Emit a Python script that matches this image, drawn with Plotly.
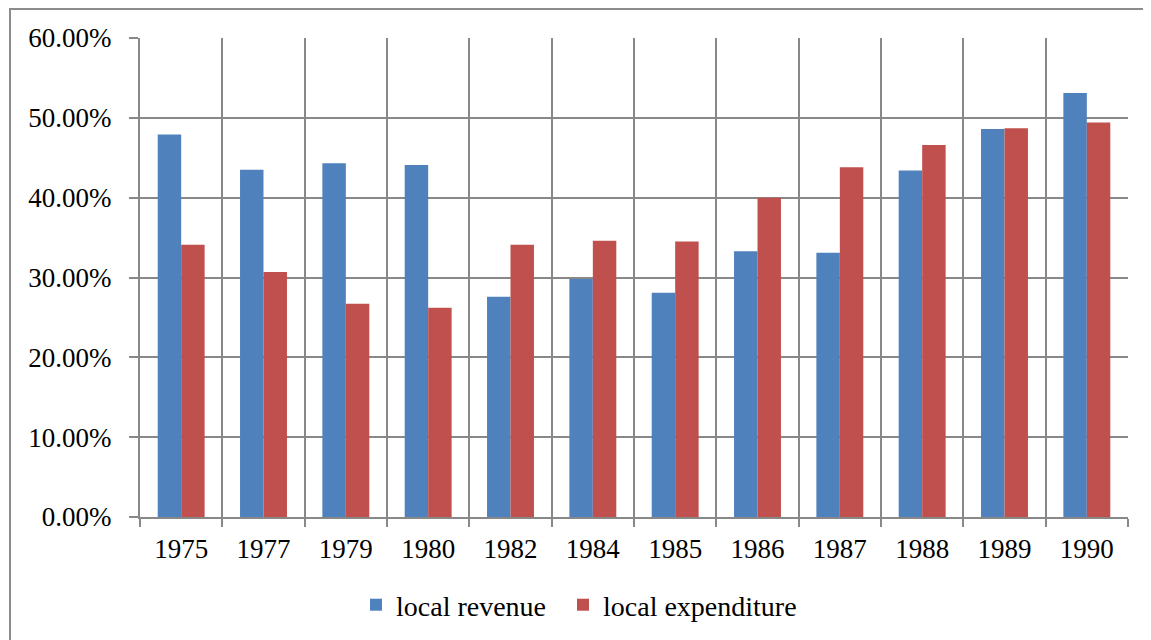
import plotly.graph_objects as go

years = ["1975", "1977", "1979", "1980", "1982", "1984", "1985", "1986", "1987", "1988", "1989", "1990"]
local_revenue = [0.479, 0.435, 0.443, 0.441, 0.276, 0.298, 0.281, 0.333, 0.331, 0.434, 0.486, 0.531]
local_expenditure = [0.341, 0.307, 0.267, 0.262, 0.341, 0.346, 0.345, 0.400, 0.438, 0.466, 0.487, 0.494]
y_ticks = [0, 0.1, 0.2, 0.3, 0.4, 0.5, 0.6]

# page body has an 8px default margin; work in page coords then shift
OFF = 8
W, H = 1151 - OFF, 640 - OFF
L, R, T, B = 140 - OFF, 1128 - OFF, 38 - OFF, 517 - OFF

FONT = "Liberation Serif"
GRID = "#888888"

fig = go.Figure()
fig.add_trace(go.Bar(x=years, y=local_revenue, name="local revenue",
                     marker=dict(color="#4F81BD", line=dict(width=0)),
                     legend="legend"))
fig.add_trace(go.Bar(x=years, y=local_expenditure, name="local expenditure",
                     marker=dict(color="#C0504D", line=dict(width=0)),
                     legend="legend2"))

pw, ph = R - L, B - T
def px(x):
    return (x - OFF - L) / pw
def py(y):
    return (B - (y - OFF)) / ph

leg_common = dict(orientation="h", xref="container", yref="container",
                  xanchor="left", y=1 - (605 - OFF) / H, yanchor="middle",
                  font=dict(family=FONT, size=28), itemwidth=30,
                  bgcolor="rgba(0,0,0,0)")

fig.update_layout(
    width=W, height=H,
    margin=dict(l=L, r=W - R, t=T, b=H - B),
    paper_bgcolor="white", plot_bgcolor="white",
    font=dict(family=FONT, size=27, color="#000000"),
    bargap=0.43, bargroupgap=0,
    barmode="group",
    showlegend=True,
    legend=dict(x=(356 - OFF) / W, **leg_common),
    legend2=dict(x=(563 - OFF) / W, **leg_common),
    xaxis=dict(type="category", tickson="boundaries", showgrid=True,
               gridcolor=GRID, gridwidth=2, showline=True, linecolor=GRID,
               linewidth=2, ticks="outside", ticklen=8, tickwidth=2,
               tickcolor=GRID, ticklabelstandoff=7,
               tickfont=dict(family=FONT, size=27)),
    yaxis=dict(range=[0, 0.6], tickvals=y_ticks, tickformat=".2%",
               showgrid=True, gridcolor=GRID, gridwidth=2, showline=True,
               linecolor=GRID, linewidth=2, ticks="outside", ticklen=9,
               tickwidth=2, tickcolor=GRID, ticklabelstandoff=12,
               zeroline=False, tickfont=dict(family=FONT, size=27)),
    shapes=[dict(type="rect", xref="paper", yref="paper",
                 x0=px(10), y0=py(9), x1=px(1170), y1=py(660),
                 line=dict(color="#8c8c8c", width=2), fillcolor="rgba(0,0,0,0)",
                 layer="below")],
)

fig.write_html("out.html")
